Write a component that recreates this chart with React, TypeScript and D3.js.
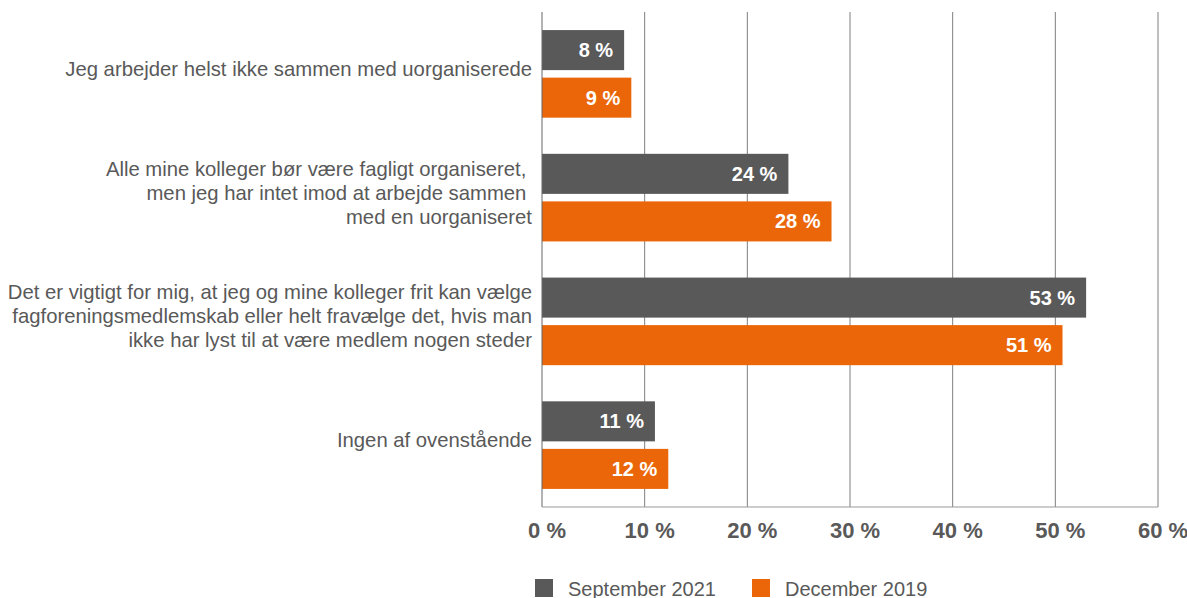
import * as d3 from "d3"

const categories = [
  ["Jeg arbejder helst ikke sammen med uorganiserede"],
  [
    "Alle mine kolleger bør være fagligt organiseret, ",
    "men jeg har intet imod at arbejde sammen ",
    "med en uorganiseret",
  ],
  [
    "Det er vigtigt for mig, at jeg og mine kolleger frit kan vælge",
    "fagforeningsmedlemskab eller helt fravælge det, hvis man",
    "ikke har lyst til at være medlem nogen steder",
  ],
  ["Ingen af ovenstående"],
]

const seriesNames = ["September 2021", "December 2019"]
const sep2021 = [8.0, 24.0, 53.0, 11.0]
const dec2019 = [8.7, 28.2, 50.7, 12.3]
const xTicks = [0, 10, 20, 30, 40, 50, 60]

const colors = ["#595959", "#EB6608"]
const textColor = "#595959"
const font = "'Liberation Sans', Arial, sans-serif"

export default function App() {
  const width = 1187
  const height = 598
  const left = 542
  const right = 1158
  const top = 12
  const bottom = 507

  const x = d3.scaleLinear().domain([0, 60]).range([left, right])
  const y = d3
    .scaleBand<number>()
    .domain(categories.map((_, i) => i))
    .range([top, bottom])
  const inner = d3
    .scaleBand<number>()
    .domain([0, 1])
    .range([0, y.bandwidth()])
    .paddingInner(0.158)
    .paddingOuter(0.38)

  const values = [sep2021, dec2019]

  return (
    <svg
      width={width}
      height={height}
      style={{ position: "absolute", left: 0, top: 0, fontFamily: font }}
    >
      {/* grid */}
      {xTicks.slice(1).map(t => (
        <line
          key={t}
          x1={x(t)}
          x2={x(t)}
          y1={top}
          y2={bottom}
          stroke="#7f7f7f"
          strokeWidth={1}
        />
      ))}

      {/* bars */}
      {values.map((vals, s) =>
        vals.map((v, i) => {
          const by = (y(i) ?? 0) + (inner(s) ?? 0)
          return (
            <g key={`${s}-${i}`}>
              <rect
                x={x(0)}
                y={by}
                width={x(v) - x(0)}
                height={inner.bandwidth()}
                fill={colors[s]}
              />
              <text
                x={x(v) - 11}
                y={by + inner.bandwidth() / 2}
                textAnchor="end"
                dominantBaseline="central"
                fill="#fff"
                fontWeight="bold"
                fontSize={20}
              >
                {`${Math.round(v)} %`}
              </text>
            </g>
          )
        })
      )}

      {/* axes */}
      <line x1={left} x2={left} y1={top} y2={bottom} stroke="#666" />
      <line x1={left} x2={right} y1={bottom} y2={bottom} stroke="#999" />

      {xTicks.map(t => (
        <text
          key={t}
          x={x(t) + 5}
          y={530}
          textAnchor="middle"
          dominantBaseline="central"
          fill={textColor}
          fontWeight="bold"
          fontSize={22}
        >
          {`${t} %`}
        </text>
      ))}

      {/* category labels */}
      {categories.map((lines, i) => {
        const cy = (y(i) ?? 0) + y.bandwidth() / 2 - 5
        const lh = 24
        return lines.map((line, j) => (
          <text
            key={`${i}-${j}`}
            x={532}
            y={cy + (j - (lines.length - 1) / 2) * lh}
            textAnchor="end"
            dominantBaseline="central"
            fill={textColor}
            fontSize={20.3}
            style={{ whiteSpace: "pre" }}
          >
            {line}
          </text>
        ))
      })}

      {/* legend */}
      {seriesNames.map((name, s) => {
        const lx = [535, 752][s]
        return (
          <g key={name}>
            <rect x={lx} y={579} width={18} height={18} fill={colors[s]} />
            <text
              x={lx + 33}
              y={588.5}
              dominantBaseline="central"
              fill={textColor}
              fontSize={20}
            >
              {name}
            </text>
          </g>
        )
      })}
    </svg>
  )
}
